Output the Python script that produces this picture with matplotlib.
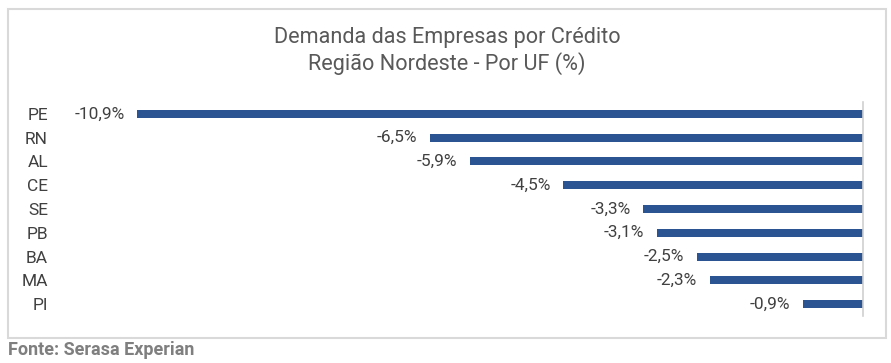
import matplotlib
matplotlib.use("Agg")
import matplotlib.pyplot as plt
from matplotlib.patches import Rectangle

plt.rcParams["font.family"] = ["Roboto", "DejaVu Sans"]

ufs = ["PE", "RN", "AL", "CE", "SE", "PB", "BA", "MA", "PI"]
values = [-10.9, -6.5, -5.9, -4.5, -3.3, -3.1, -2.5, -2.3, -0.9]
title = "Demanda das Empresas por Crédito\nRegião Nordeste - Por UF (%)"
source = "Fonte: Serasa Experian"

W, H = 891, 363
fig = plt.figure(figsize=(W / 100, H / 100), dpi=100)


def px(x0, y0, x1, y1):
    return [x0 / W, 1 - y1 / H, (x1 - x0) / W, (y1 - y0) / H]


ax = fig.add_axes(px(55, 102, 863, 316))
pos = list(range(len(ufs)))
ax.barh(pos, values, height=0.34, color="#2a5592")
ax.set_xlim(-808 / 66.6, 0)
ax.set_ylim(len(ufs) - 0.5, -0.5)
ax.set_yticks(pos, ufs)
ax.tick_params(axis="y", length=0, pad=5, labelsize=12.5, labelcolor="#404040")
ax.set_xticks([])
for side in ["left", "top", "bottom"]:
    ax.spines[side].set_visible(False)
ax.spines["right"].set_color("#d0d0d0")
ax.spines["right"].set_linewidth(1.2)

for p, v in zip(pos, values):
    ax.annotate(f"{v:.1f}%".replace(".", ","), (v, p), xytext=(-9, 0),
                textcoords="offset points", ha="right", va="center",
                fontsize=12.4, color="#404040")

fig.text(447 / W, 1 - 51 / H, title, ha="center", va="center",
         fontsize=15.6, color="#595959", linespacing=1.2)

fig.patches.append(Rectangle((8 / W, 1 - 338 / H), 878 / W, 329 / H,
                             transform=fig.transFigure, fill=False,
                             edgecolor="#d9d9d9", linewidth=1.5))
fig.text(8 / W, 1 - 350 / H, source, ha="left", va="center",
         fontsize=13, fontweight="bold", color="#7f7f7f")

fig.savefig("out.png", dpi=100)
